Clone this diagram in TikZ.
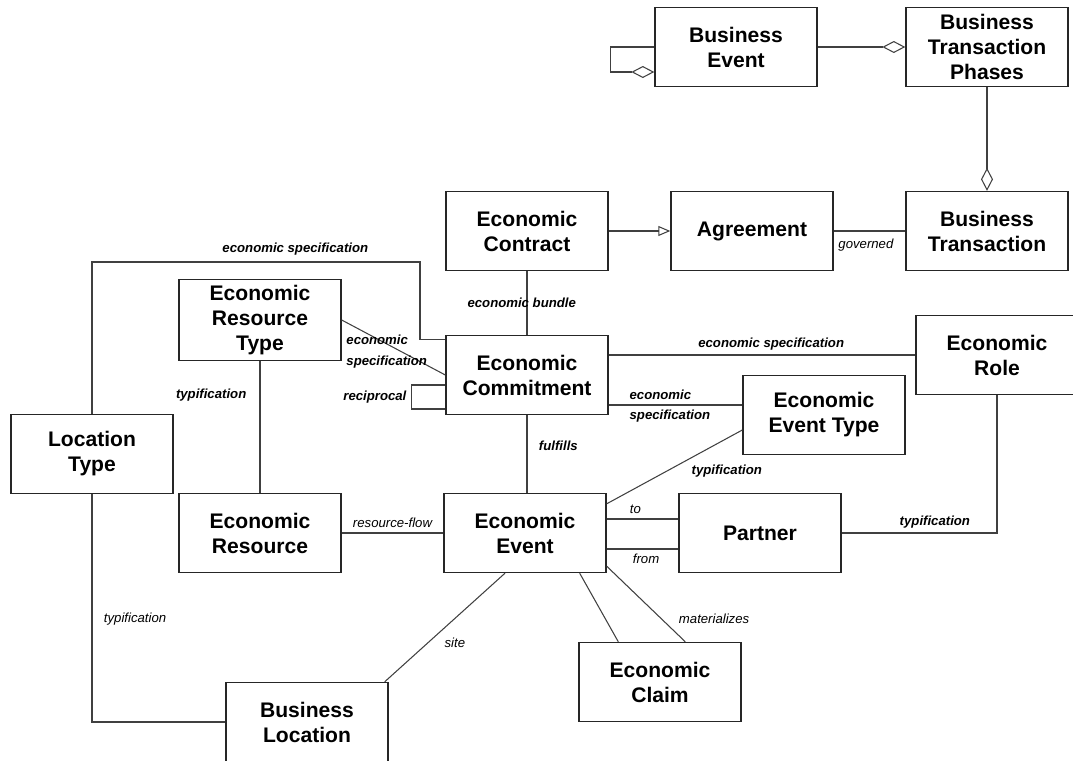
\documentclass[tikz,border=0pt]{standalone}
\usepackage{fontspec}
\setmainfont{Liberation Sans}
\usetikzlibrary{calc,arrows.meta}

\begin{document}
\begin{tikzpicture}[x=0.02cm, y=-0.02cm,
		box/.style={draw=black!85, line width=0.8pt, minimum width=3.24cm, minimum height=1.58cm, align=center, font=\bfseries\fontsize{12}{14.2}\selectfont},
		link/.style={draw=black!75, line width=0.6pt},
		lbl/.style={font=\bfseries\itshape\fontsize{7.5}{9}\selectfont, inner sep=2.5pt},
		lbln/.style={font=\itshape\fontsize{7.5}{9}\selectfont, inner sep=2.5pt},
		aggr/.style={link, -{Diamond[open, length=0.46cm, width=0.24cm]}},
		gen/.style={link, -{Triangle[open, length=0.24cm, width=0.2cm]}}]
		
		\useasboundingbox (0,0) rectangle (1073,761);
		
		\node (be) at (736,47) [box] {Business\\Event};
		\node (btp) at (987,47) [box] {Business\\Transaction\\Phases};
		\node (ec) at (527,231) [box] {Economic\\Contract};
		\node (agr) at (752,231) [box] {Agreement};
		\node (bt) at (987,231) [box] {Business\\Transaction};
		\node (ert) at (260,320) [box] {Economic\\Resource\\Type};
		\node (ecom) at (527,375) [box] {Economic\\Commitment};
		\node (role) at (997,355) [box] {Economic\\Role};
		\node (eet) at (824,415) [box] {Economic\\Event Type};
		\node (lt) at (92,454) [box] {Location\\Type};
		\node (er) at (260,533) [box] {Economic\\Resource};
		\node (ee) at (525,533) [box] {Economic\\Event};
		\node (ptn) at (760,533) [box] {Partner};
		\node (ecl) at (660,682) [box] {Economic\\Claim};
		\node (bl) at (307,722) [box] {Business\\Location};
		
		\draw[aggr] (be.west) -- ++(-44,0) |- ($(be.west)+(0,25)$);
		\draw[aggr] (be) -- (btp);
		\draw[aggr] (btp) -- (bt);
		\draw[gen] (ec) -- (agr);
		\draw[link] (agr) -- node[lbln, pos=0.45, below=2pt] {governed} (bt);
		\draw[link] (ec) -- node[lbl, xshift=-3pt] {economic bundle} (ecom);
		
		\coordinate (esc) at (420,262);
		\draw[link] (lt.north) |- node[lbl, pos=0.81, above=1pt] {economic specification} (esc) |- ($(ecom.north west)+(0,5)$);
		\draw[link] (ert.east) -- (ecom.west);
		\node (ersp) at ($(ert.east)+(0,32)$) [lbl, anchor=west, align=left] {economic\\[3pt]specification};
		\draw[link] ($(ecom.west)+(0,10)$) -- ++(-34,0) |- node[lbl, pos=0.25, left] {reciprocal} ($(ecom.west)+(0,34)$);
		\draw[link] (ert) -- node[lbl, pos=0.26, left=5pt] {typification} (er);
		
		\draw[link] (ecom.east |- role.west) -- node[lbl, pos=0.53, above] {economic specification} (role.west);
		\coordinate (eets) at ($(eet.west)+(0,-10)$);
		\draw[link] (ecom.east |- eets) -- node[lbl, pos=0.12, anchor=south west] {economic} node[lbl, pos=0.12, anchor=north west] {specification} (eets);
		\draw[link] (ecom) -- node[lbl, pos=0.4, right=4pt] {fulfills} (ecom |- ee.north);
		\draw[link] ($(eet.west)+(0,15)$) -- node[lbl, pos=0.41, anchor=north west] {typification} ($(ee.north east)+(0,11)$);
		
		\draw[link] (er) -- node[lbln, above] {resource-flow} (ee);
		\draw[link] ($(ee.east)+(0,-14)$) -- node[lbln, pos=0.4, above] {to} ($(ptn.west)+(0,-14)$);
		\draw[link] ($(ee.east)+(0,16)$) -- node[lbln, pos=0.55, below] {from} ($(ptn.west)+(0,16)$);
		\draw[link] (role.south) |- node[lbl, pos=0.7, above] {typification} (ptn.east);
		
		\draw[link] ($(ee.south)+(-20,0)$) -- node[lbln, pos=0.645, right=7pt] {site} ($(bl.north east)+(-4,0)$);
		\draw[link] ($(ee.south east)+(-27,0)$) -- ($(ecl.north west)+(40,0)$);
		\draw[link] ($(ee.south east)+(0,-7)$) -- node[lbln, pos=0.7, right=7pt] {materializes} ($(ecl.north west)+(107,0)$);
		\draw[link] (lt.south) |- node[lbln, pos=0.275, right=4pt] {typification} (bl.west);
		
	\end{tikzpicture}
\end{document}
